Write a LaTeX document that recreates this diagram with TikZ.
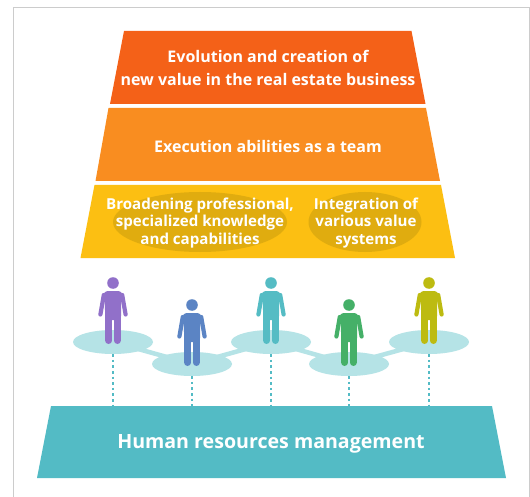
\documentclass[tikz,border=0pt]{standalone}
\usepackage{fontspec}
\setmainfont{Open Sans}
\usetikzlibrary{shapes.geometric}

\definecolor{toporange}{HTML}{F46118}
\definecolor{midorange}{HTML}{F98D20}
\definecolor{lowyellow}{HTML}{FCBF12}
\definecolor{lowshade}{HTML}{E0AC0F}
\definecolor{hrteal}{HTML}{53BBC5}
\definecolor{platecolor}{HTML}{B5E3E6}
\definecolor{framegray}{HTML}{CCCCCC}
\definecolor{person1}{HTML}{9170C9}
\definecolor{person2}{HTML}{5B84C4}
\definecolor{person3}{HTML}{55BCC4}
\definecolor{person4}{HTML}{45B068}
\definecolor{person5}{HTML}{BDBB11}

\tikzset{
    caption/.style={text=white, font=\bfseries\fontsize{#1}{#1}\selectfont, align=center},
    plate/.style={ellipse, fill=platecolor, minimum width=80pt, minimum height=24pt, inner sep=0pt},
    oval/.style={ellipse, fill=lowshade, inner sep=0pt},
    pics/person/.style={code={
        \fill (0,-61) circle (5.8);
        \fill[rounded corners=4pt] (-9.5,-53) -- (9.5,-53) -- (8,-38) -- (8,-24) -- (-8,-24) -- (-8,-38) -- cycle;
        \draw[line width=4.2pt, line cap=round] (-9.2,-49) -- (-12.6,-29.5);
        \draw[line width=4.2pt, line cap=round] (9.2,-49) -- (12.6,-29.5);
        \draw[line width=7.2pt, line cap=round] (-4.3,-28) -- (-4.3,-3.6);
        \draw[line width=7.2pt, line cap=round] (4.3,-28) -- (4.3,-3.6);
    }}
}

\begin{document}
\begin{tikzpicture}[x=1pt, y=-1pt]
    \useasboundingbox (0,0) rectangle (530,497);
    \fill[white] (0,0) rectangle (530,497);
    \draw[framegray, line width=1pt] (13,497) -- (13,8) -- (529,8) -- (529,497);

    \fill[toporange] (124,31) -- (411.5,31) -- (425.5,104) -- (110,104) -- cycle;
    \fill[midorange] (108.5,108) -- (426,108) -- (440,181) -- (95.5,181) -- cycle;
    \fill[lowyellow] (94.5,185) -- (441,185) -- (455,258) -- (80.5,258) -- cycle;
    \fill[hrteal] (51,406) -- (492,406) -- (506,478) -- (37,478) -- cycle;
    \coordinate (hrtop) at (271,406);

    \node[caption=16] (evolution) at (268,68) {Evolution and creation of\\[6.6pt]new value in the real estate business};
    \node[caption=16] (execution) at (268,147) {Execution abilities as a team};

    \node[oval, minimum width=174pt, minimum height=60pt] (ovalleft) at (200,222) {};
    \node[oval, minimum width=113pt, minimum height=60pt] (ovalright) at (365,222) {};
    \node[caption=15.1] (broadening) at (200,223) {Broadening professional,\\[2.5pt]specialized knowledge\\[2.5pt]and capabilities};
    \node[caption=15.1] (integration) at (366,223) {Integration of\\[2.5pt]various value\\[2.5pt]systems};

    \node[caption=19.6] (hrm) at (271,444) {Human resources management};

    % plates and the links between them
    \node[plate] (plate1) at (113,342) {};
    \node[plate] (plate2) at (192,364) {};
    \node[plate] (plate3) at (271,342) {};
    \node[plate] (plate4) at (349,364) {};
    \node[plate] (plate5) at (429,342) {};
    \draw[platecolor, line width=4.5pt] (plate1.center) -- (plate2.center);
    \draw[platecolor, line width=4.5pt] (plate2.center) -- (plate3.center);
    \draw[platecolor, line width=4.5pt] (plate3.center) -- (plate4.center);
    \draw[platecolor, line width=4.5pt] (plate4.center) -- (plate5.center);

    \foreach \i in {1,...,5} {
        \draw[hrteal, line width=2pt, dash pattern=on 2.6pt off 3pt] (plate\i.south) -- (plate\i.south |- hrtop);
        \pic[color=person\i] at ([yshift=-2pt]plate\i.center) {person};
    }
\end{tikzpicture}
\end{document}
